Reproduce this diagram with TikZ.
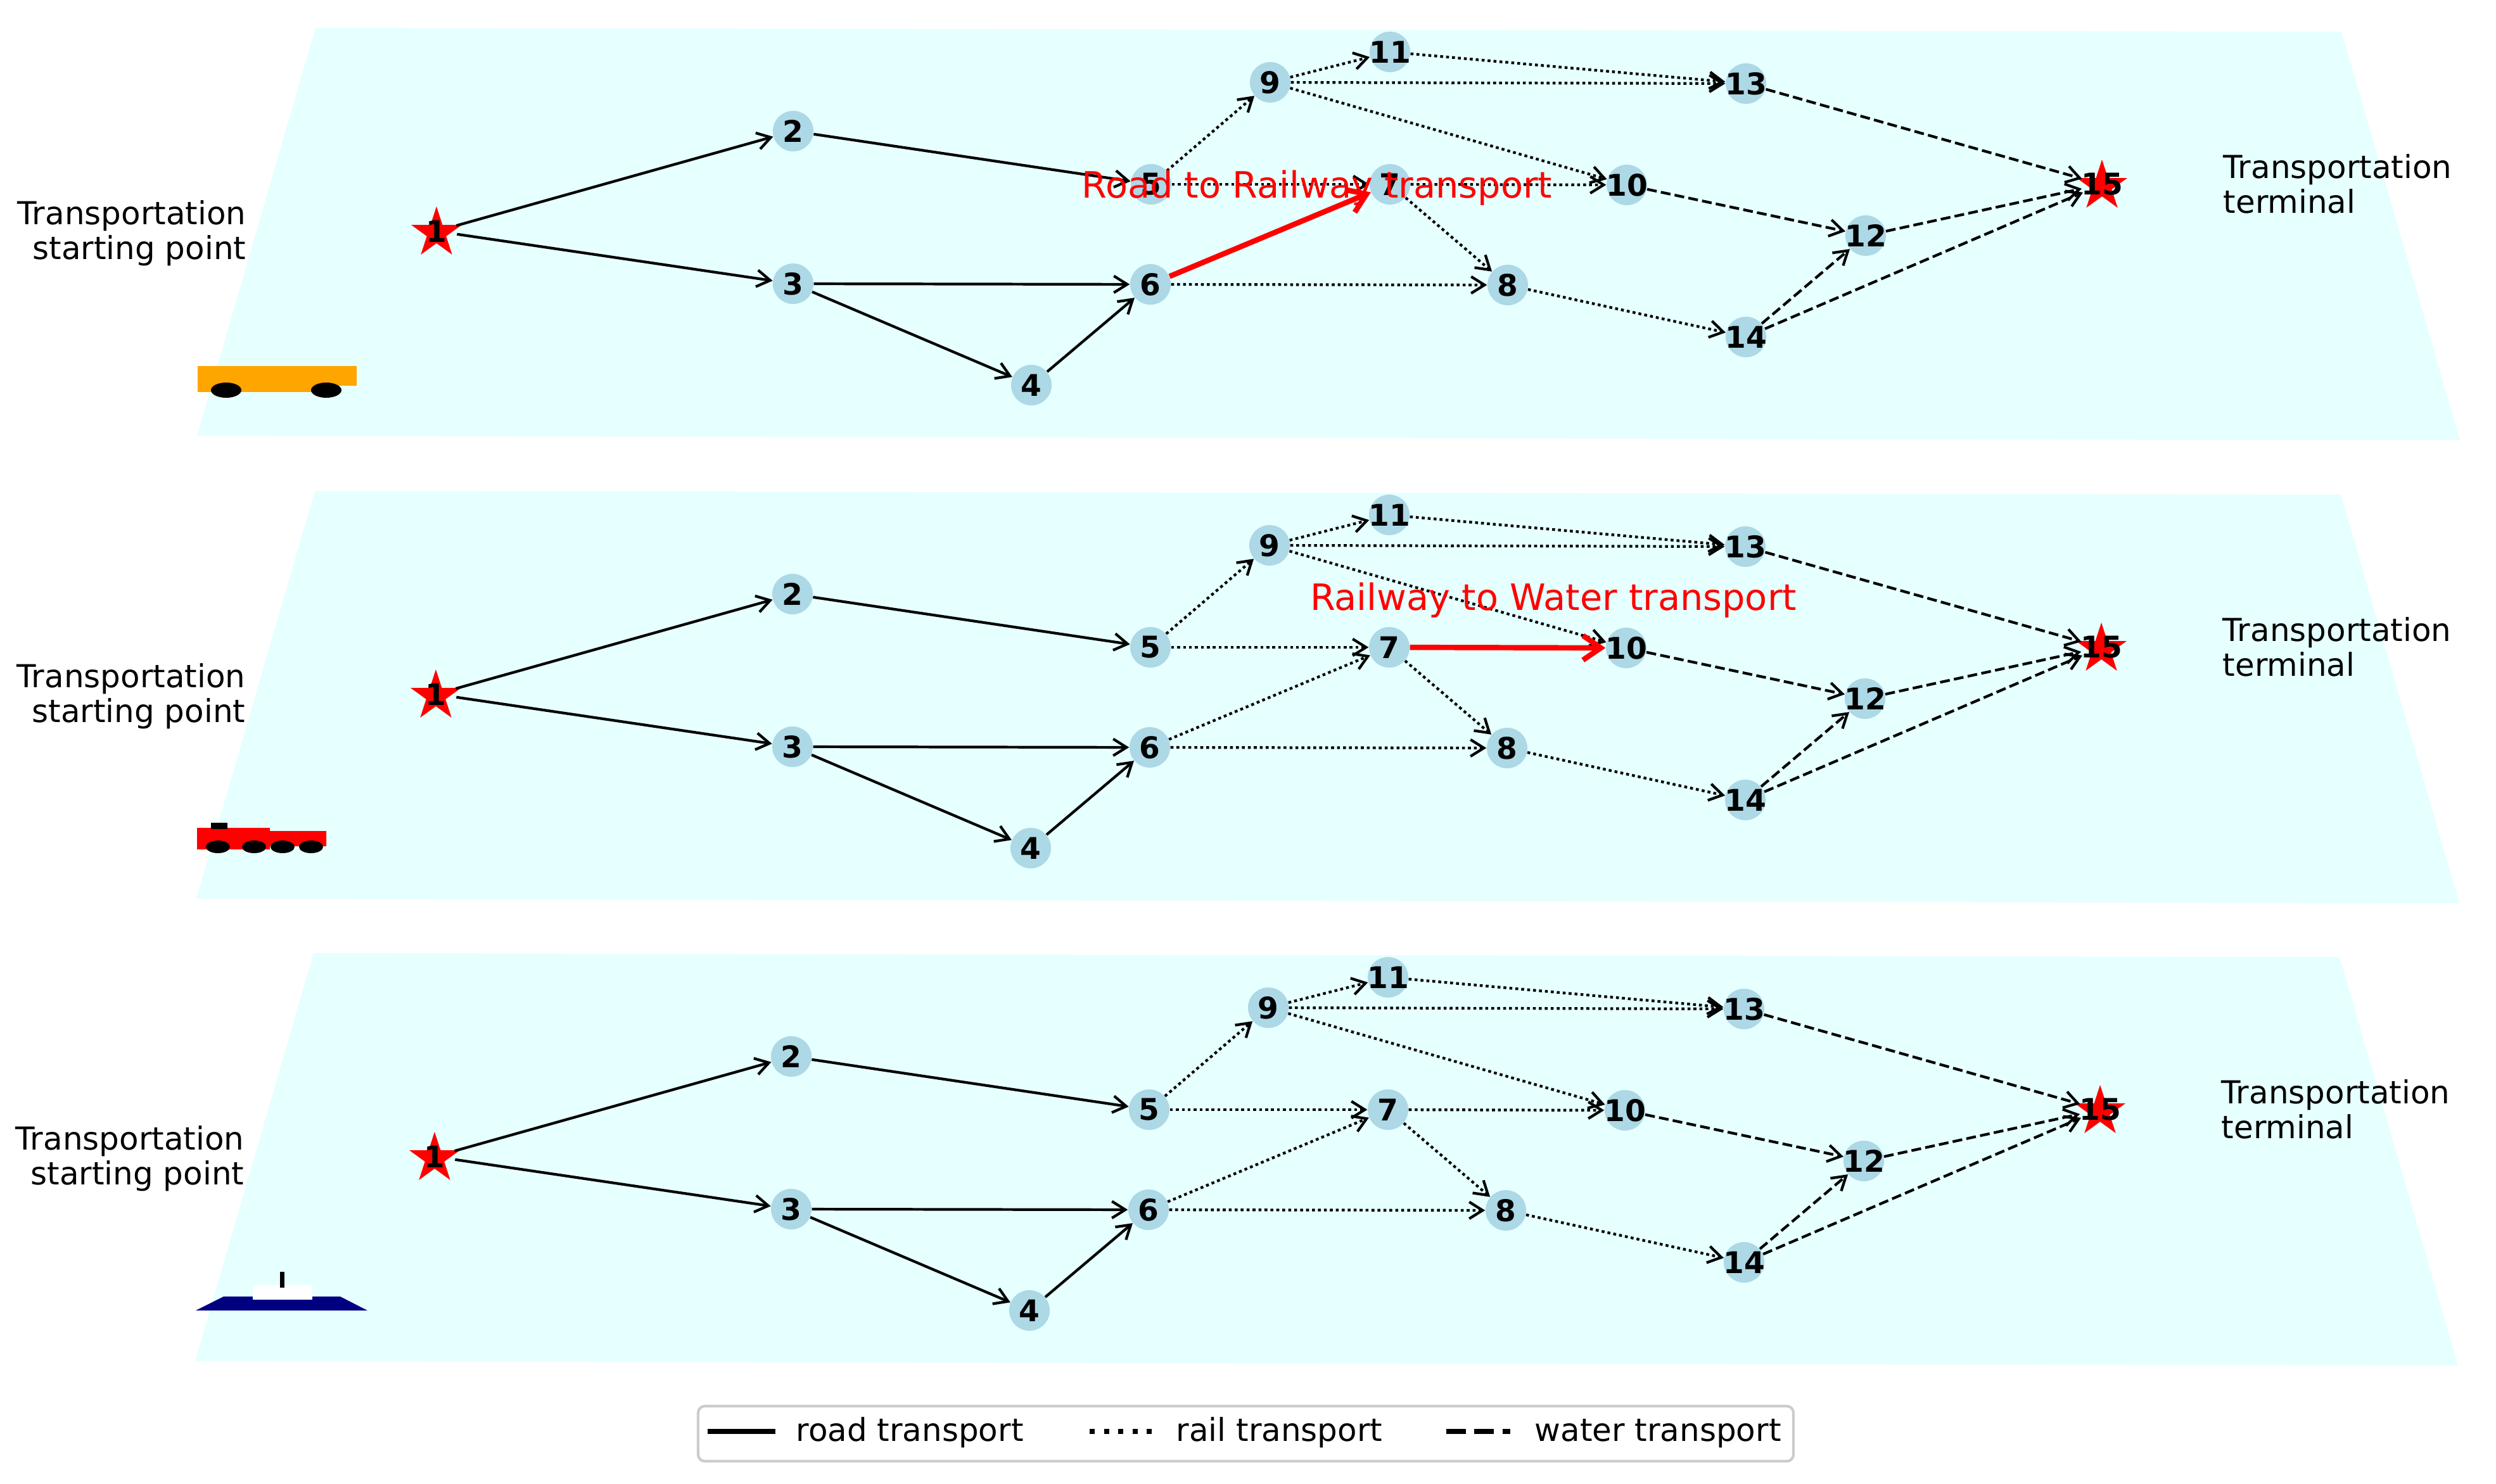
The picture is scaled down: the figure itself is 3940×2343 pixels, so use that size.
\documentclass[tikz,border=0pt]{standalone}
\usepackage{fontspec}
\setmainfont{DejaVu Sans}
\usetikzlibrary{arrows.meta,shapes.geometric}
\definecolor{planecyan}{HTML}{E6FFFF}
\definecolor{nodeblue}{HTML}{ADD8E6}
\definecolor{legendgrey}{HTML}{CCCCCC}
\definecolor{truckorange}{HTML}{FFA500}
\tikzset{
  netnode/.style={circle, fill=nodeblue, minimum size=18.2pt, inner sep=-5pt, font=\fontsize{13.4pt}{15pt}\selectfont\bfseries},
  endnode/.style={netnode, fill=none},
  endstar/.style={star, star points=5, star point ratio=2.618, fill=red, minimum size=23.9pt, inner sep=0pt},
  placetext/.style={inner sep=0pt, font=\fontsize{14.2pt}{15.65pt}\selectfont},
  shifttext/.style={inner sep=0pt, text=red, font=\fontsize{16.3pt}{18pt}\selectfont},
  roadlink/.style={line width=1.2pt, -{Straight Barb[length=6pt,width=7.5pt]}},
  raillink/.style={line width=1.2pt, dash pattern=on 1.3pt off 1.37pt, -{Straight Barb[length=6pt,width=7.5pt]}},
  waterlink/.style={line width=1.2pt, dash pattern=on 4.4pt off 1.9pt, -{Straight Barb[length=6pt,width=7.5pt]}},
  shiftlink/.style={red, line width=2.4pt, -{Straight Barb[length=8pt,width=11pt]}},
}
\begin{document}
\begin{tikzpicture}[x=0.01cm,y=-0.01cm]
\useasboundingbox (0,0) rectangle (3940,2343);
\fill[planecyan] (498,44) -- (3696,50) -- (3883,695) -- (311,688) -- cycle;
\fill[planecyan] (497,775) -- (3695,781) -- (3882,1426) -- (310,1419) -- cycle;
\fill[planecyan] (495,1505) -- (3693,1511) -- (3880,2156) -- (308,2149) -- cycle;
\fill[truckorange] (312,578) -- (563,578) -- (563,609) -- (515,609) -- (515,619) -- (312,619) -- cycle;
\fill (357,616) ellipse (24 and 12);
\fill (515,616) ellipse (24 and 12);
\fill[red] (311,1307) -- (426,1307) -- (426,1312) -- (515,1312) -- (515,1336) -- (426,1336) -- (426,1341) -- (311,1341) -- cycle;
\fill (333,1299) rectangle (359,1309);
\fill (344,1337) ellipse (19 and 10);
\fill (401,1337) ellipse (19 and 10);
\fill (446,1337) ellipse (19 and 10);
\fill (491,1337) ellipse (19 and 10);
\fill[blue!50!black] (309,2069) -- (353,2047) -- (537,2047) -- (580,2069) -- cycle;
\fill[white] (399,2029) rectangle (493,2052);
\fill (442,2008) rectangle (449,2033);
\node[placetext, align=right, anchor=east] (roadstart) at (389,368) {Transportation\\starting point};
\node[placetext, align=left, anchor=west] (roadend) at (3509,290) {Transportation\\terminal};
\node[placetext, align=right, anchor=east] (railstart) at (388,1099) {Transportation\\starting point};
\node[placetext, align=left, anchor=west] (railend) at (3508,1021) {Transportation\\terminal};
\node[placetext, align=right, anchor=east] (waterstart) at (386,1829) {Transportation\\starting point};
\node[placetext, align=left, anchor=west] (waterend) at (3506,1751) {Transportation\\terminal};
\node[endstar] (roadstarA) at (689,368) {};
\node[endstar] (roadstarB) at (3318,294) {};
\node[endnode] (road1) at (689,365) {1};
\node[netnode] (road2) at (1252,207) {2};
\node[netnode] (road3) at (1252,448) {3};
\node[netnode] (road4) at (1628,608) {4};
\node[netnode] (road5) at (1817,291) {5};
\node[netnode] (road6) at (1816,449) {6};
\node[netnode] (road7) at (2194,291) {7};
\node[netnode] (road8) at (2380,450) {8};
\node[netnode] (road9) at (2005,130) {9};
\node[netnode] (road10) at (2568,292) {10};
\node[netnode] (road11) at (2194,82) {11};
\node[netnode] (road12) at (2945,372) {12};
\node[netnode] (road13) at (2756,132) {13};
\node[netnode] (road14) at (2756,532) {14};
\node[endnode] (road15) at (3318,291) {15};
\draw[roadlink] (road1) -- (road2);
\draw[roadlink] (road1) -- (road3);
\draw[roadlink] (road2) -- (road5);
\draw[roadlink] (road3) -- (road6);
\draw[roadlink] (road3) -- (road4);
\draw[roadlink] (road4) -- (road6);
\draw[raillink] (road5) -- (road7);
\draw[raillink] (road5) -- (road9);
\draw[raillink] (road6) -- (road8);
\draw[raillink] (road7) -- (road8);
\draw[raillink] (road7) -- (road10);
\draw[raillink] (road9) -- (road10);
\draw[raillink] (road9) -- (road11);
\draw[raillink] (road9) -- (road13);
\draw[raillink] (road11) -- (road13);
\draw[raillink] (road8) -- (road14);
\draw[waterlink] (road10) -- (road12);
\draw[waterlink] (road12) -- (road15);
\draw[waterlink] (road13) -- (road15);
\draw[waterlink] (road14) -- (road12);
\draw[waterlink] (road14) -- (road15);
\draw[shiftlink] (road6) -- (road7);
\node[endstar] (railstarA) at (688,1099) {};
\node[endstar] (railstarB) at (3317,1025) {};
\node[endnode] (rail1) at (688,1096) {1};
\node[netnode] (rail2) at (1251,938) {2};
\node[netnode] (rail3) at (1251,1179) {3};
\node[netnode] (rail4) at (1627,1339) {4};
\node[netnode] (rail5) at (1816,1022) {5};
\node[netnode] (rail6) at (1815,1180) {6};
\node[netnode] (rail7) at (2193,1022) {7};
\node[netnode] (rail8) at (2379,1181) {8};
\node[netnode] (rail9) at (2004,861) {9};
\node[netnode] (rail10) at (2567,1023) {10};
\node[netnode] (rail11) at (2193,813) {11};
\node[netnode] (rail12) at (2944,1103) {12};
\node[netnode] (rail13) at (2755,863) {13};
\node[netnode] (rail14) at (2755,1263) {14};
\node[endnode] (rail15) at (3317,1022) {15};
\draw[roadlink] (rail1) -- (rail2);
\draw[roadlink] (rail1) -- (rail3);
\draw[roadlink] (rail2) -- (rail5);
\draw[roadlink] (rail3) -- (rail6);
\draw[roadlink] (rail3) -- (rail4);
\draw[roadlink] (rail4) -- (rail6);
\draw[raillink] (rail5) -- (rail7);
\draw[raillink] (rail5) -- (rail9);
\draw[raillink] (rail6) -- (rail7);
\draw[raillink] (rail6) -- (rail8);
\draw[raillink] (rail7) -- (rail8);
\draw[raillink] (rail9) -- (rail10);
\draw[raillink] (rail9) -- (rail11);
\draw[raillink] (rail9) -- (rail13);
\draw[raillink] (rail11) -- (rail13);
\draw[raillink] (rail8) -- (rail14);
\draw[waterlink] (rail10) -- (rail12);
\draw[waterlink] (rail12) -- (rail15);
\draw[waterlink] (rail13) -- (rail15);
\draw[waterlink] (rail14) -- (rail12);
\draw[waterlink] (rail14) -- (rail15);
\draw[shiftlink] (rail7) -- (rail10);
\node[endstar] (waterstarA) at (686,1829) {};
\node[endstar] (waterstarB) at (3315,1755) {};
\node[endnode] (water1) at (686,1826) {1};
\node[netnode] (water2) at (1249,1668) {2};
\node[netnode] (water3) at (1249,1909) {3};
\node[netnode] (water4) at (1625,2069) {4};
\node[netnode] (water5) at (1814,1752) {5};
\node[netnode] (water6) at (1813,1910) {6};
\node[netnode] (water7) at (2191,1752) {7};
\node[netnode] (water8) at (2377,1911) {8};
\node[netnode] (water9) at (2002,1591) {9};
\node[netnode] (water10) at (2565,1753) {10};
\node[netnode] (water11) at (2191,1543) {11};
\node[netnode] (water12) at (2942,1833) {12};
\node[netnode] (water13) at (2753,1593) {13};
\node[netnode] (water14) at (2753,1993) {14};
\node[endnode] (water15) at (3315,1752) {15};
\draw[roadlink] (water1) -- (water2);
\draw[roadlink] (water1) -- (water3);
\draw[roadlink] (water2) -- (water5);
\draw[roadlink] (water3) -- (water6);
\draw[roadlink] (water3) -- (water4);
\draw[roadlink] (water4) -- (water6);
\draw[raillink] (water5) -- (water7);
\draw[raillink] (water5) -- (water9);
\draw[raillink] (water6) -- (water7);
\draw[raillink] (water6) -- (water8);
\draw[raillink] (water7) -- (water8);
\draw[raillink] (water7) -- (water10);
\draw[raillink] (water9) -- (water10);
\draw[raillink] (water9) -- (water11);
\draw[raillink] (water9) -- (water13);
\draw[raillink] (water11) -- (water13);
\draw[raillink] (water8) -- (water14);
\draw[waterlink] (water10) -- (water12);
\draw[waterlink] (water12) -- (water15);
\draw[waterlink] (water13) -- (water15);
\draw[waterlink] (water14) -- (water12);
\draw[waterlink] (water14) -- (water15);
\node[shifttext] (roadshift) at (2079,297) {Road to Railway transport};
\node[shifttext] (railshift) at (2452,948) {Railway to Water transport};
\node[draw=legendgrey, line width=1.2pt, rounded corners=3pt, minimum width=1729*0.01cm, minimum height=87*0.01cm, inner sep=0pt] (legendbox) at (1966.5,2263.5) {};
\coordinate (roadkeyA) at (1117,2260);
\coordinate (roadkeyB) at (1224,2260);
\coordinate (railkeyA) at (1720,2260);
\coordinate (railkeyB) at (1820,2260);
\coordinate (waterkeyA) at (2283,2260);
\coordinate (waterkeyB) at (2384,2260);
\draw[line width=2.4pt] (roadkeyA) -- (roadkeyB);
\draw[line width=2.4pt, dash pattern=on 2.4pt off 4pt] (railkeyA) -- (railkeyB);
\draw[line width=2.4pt, dash pattern=on 8.8pt off 3.8pt] (waterkeyA) -- (waterkeyB);
\node[placetext, anchor=base west] (roadkey) at (1256,2275) {road transport};
\node[placetext, anchor=base west] (railkey) at (1856,2275) {rail transport};
\node[placetext, anchor=base west] (waterkey) at (2422,2275) {water transport};
\end{tikzpicture}
\end{document}
